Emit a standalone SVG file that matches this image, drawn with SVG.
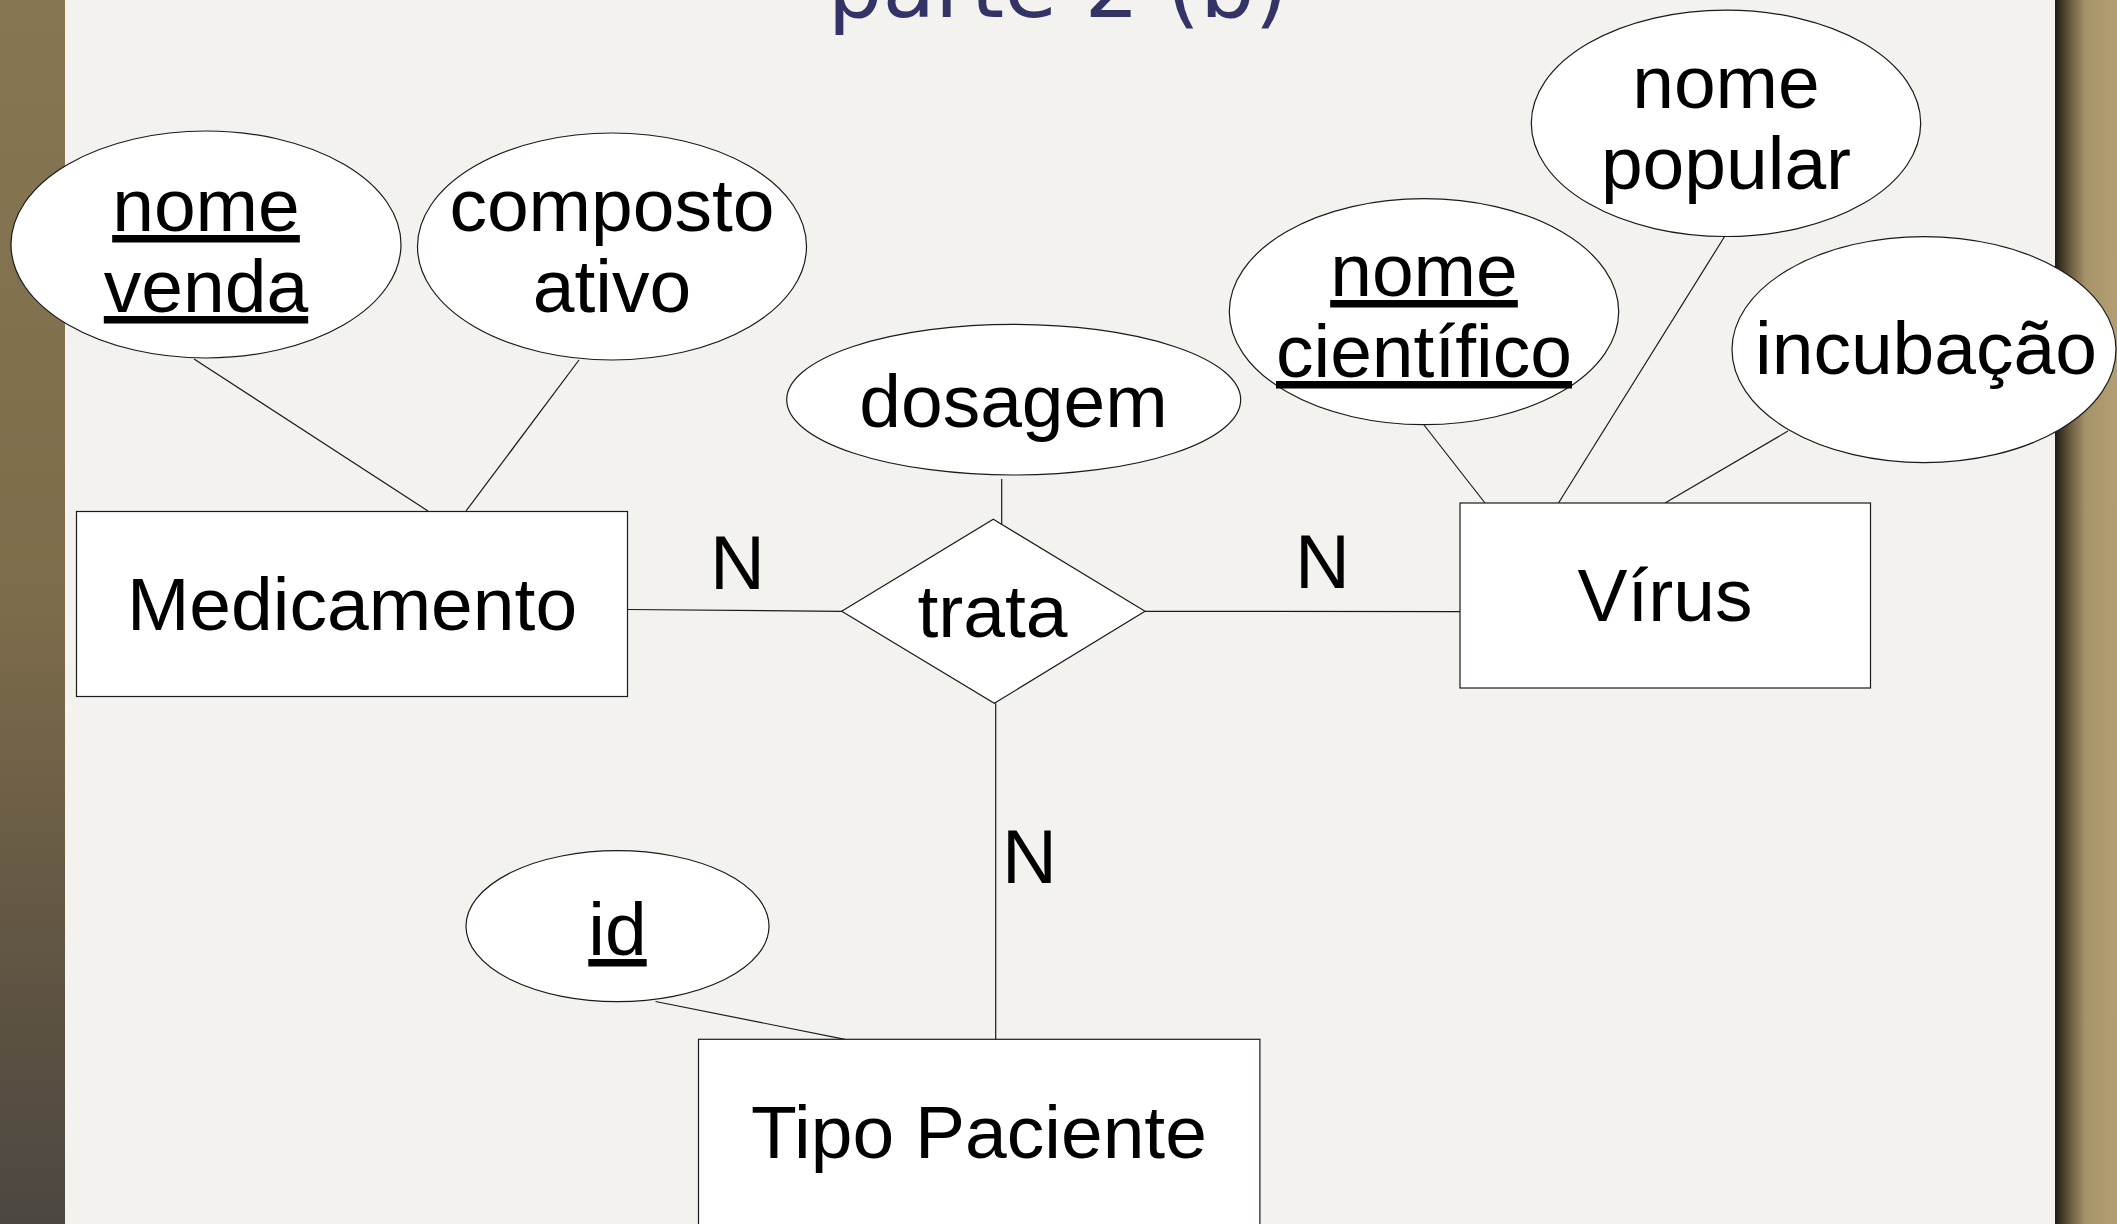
<svg xmlns="http://www.w3.org/2000/svg" width="2117" height="1224" viewBox="0 0 2117 1224">
  <defs>
    <linearGradient id="woodL" x1="0" y1="0" x2="0" y2="1">
      <stop offset="0" stop-color="#877652"/>
      <stop offset="0.5" stop-color="#7d6c4b"/>
      <stop offset="0.8" stop-color="#5f5443"/>
      <stop offset="1" stop-color="#4c4741"/>
    </linearGradient>
    <linearGradient id="woodR" x1="0" y1="0" x2="1" y2="0">
      <stop offset="0" stop-color="#1e1a14"/>
      <stop offset="0.25" stop-color="#6a5c40"/>
      <stop offset="0.5" stop-color="#a8946a"/>
      <stop offset="1" stop-color="#b29e72"/>
    </linearGradient>
    <style>
      .shape { fill: #ffffff; stroke: #1a1a1a; stroke-width: 1.2; }
      .conn line { stroke: #1a1a1a; stroke-width: 1.2; }
      .lbl { font-family: "Liberation Sans", Arial, sans-serif; font-size: 75px; fill: #000000; text-anchor: middle; }
      .key { text-decoration: underline; }
      .card { font-family: "Liberation Sans", Arial, sans-serif; font-size: 76px; fill: #000000; }
      .title { font-family: "DejaVu Sans", sans-serif; font-size: 86px; fill: #333366; text-anchor: middle; }
    </style>
  </defs>

  <!-- background -->
  <rect x="0" y="0" width="2117" height="1224" fill="#f3f2ee"/>
  <rect x="0" y="0" width="65" height="1224" fill="url(#woodL)"/>
  <rect x="2055" y="0" width="62" height="1224" fill="url(#woodR)"/>

  <text class="title" x="1058" y="17">parte 2 (b)</text>

  <g id="connectors" class="conn">
    <line x1="194" y1="359" x2="428" y2="511"/>
    <line x1="579" y1="360" x2="466" y2="511"/>
    <line x1="628" y1="609.5" x2="842" y2="611.3"/>
    <line x1="1145" y1="611.3" x2="1460" y2="611.6"/>
    <line x1="995.7" y1="703.3" x2="995.7" y2="1039.3"/>
    <line x1="1001.7" y1="479" x2="1001.7" y2="524.4"/>
    <line x1="1424" y1="425" x2="1485" y2="503"/>
    <line x1="1724.6" y1="236.5" x2="1558.5" y2="503"/>
    <line x1="1788" y1="431" x2="1665" y2="503"/>
    <line x1="655.5" y1="1001.5" x2="845" y2="1039.3"/>
  </g>

  <g id="attr-nome-venda">
    <ellipse class="shape" cx="206" cy="244.5" rx="195" ry="113.5"/>
    <text class="lbl key" x="206" y="231">nome</text>
    <text class="lbl key" x="206" y="312">venda</text>
  </g>

  <g id="attr-composto-ativo">
    <ellipse class="shape" cx="612" cy="246.5" rx="194.5" ry="113.5"/>
    <text class="lbl" x="612" y="231">composto</text>
    <text class="lbl" x="612" y="312">ativo</text>
  </g>

  <g id="ent-medicamento">
    <rect class="shape" x="76.5" y="511.5" width="551" height="185"/>
    <text class="lbl" x="352" y="630">Medicamento</text>
  </g>

  <g id="attr-dosagem">
    <ellipse class="shape" cx="1013.7" cy="399.7" rx="227" ry="75.3"/>
    <text class="lbl" x="1013.5" y="427">dosagem</text>
  </g>

  <g id="rel-trata">
    <polygon class="shape" points="993.3,519.3 1145,611.3 994.3,703.3 841.7,611.3"/>
    <text class="lbl" x="992.5" y="637">trata</text>
  </g>

  <g id="ent-virus">
    <rect class="shape" x="1460" y="503" width="410.5" height="185"/>
    <text class="lbl" x="1665" y="621">Vírus</text>
  </g>

  <g id="attr-nome-cientifico">
    <ellipse class="shape" cx="1424" cy="311.7" rx="194.7" ry="113"/>
    <text class="lbl key" x="1424" y="296">nome</text>
    <text class="lbl key" x="1424" y="377">científico</text>
  </g>

  <g id="attr-nome-popular">
    <ellipse class="shape" cx="1726" cy="123.3" rx="194.7" ry="113.2"/>
    <text class="lbl" x="1726" y="108">nome</text>
    <text class="lbl" x="1726" y="189">popular</text>
  </g>

  <g id="attr-incubacao">
    <ellipse class="shape" cx="1924" cy="349.6" rx="192" ry="113"/>
    <text class="lbl" x="1926" y="374">incubação</text>
  </g>

  <g id="attr-id">
    <ellipse class="shape" cx="617.5" cy="926.2" rx="151.5" ry="75.5"/>
    <text class="lbl key" x="617.5" y="955">id</text>
  </g>

  <g id="ent-tipo-paciente">
    <rect class="shape" x="698.5" y="1039.3" width="561.4" height="200"/>
    <text class="lbl" x="979" y="1158">Tipo Paciente</text>
  </g>

  <g id="cardinalities">
    <text class="card" x="710" y="589">N</text>
    <text class="card" x="1295" y="588">N</text>
    <text class="card" x="1002" y="883">N</text>
  </g>
</svg>
